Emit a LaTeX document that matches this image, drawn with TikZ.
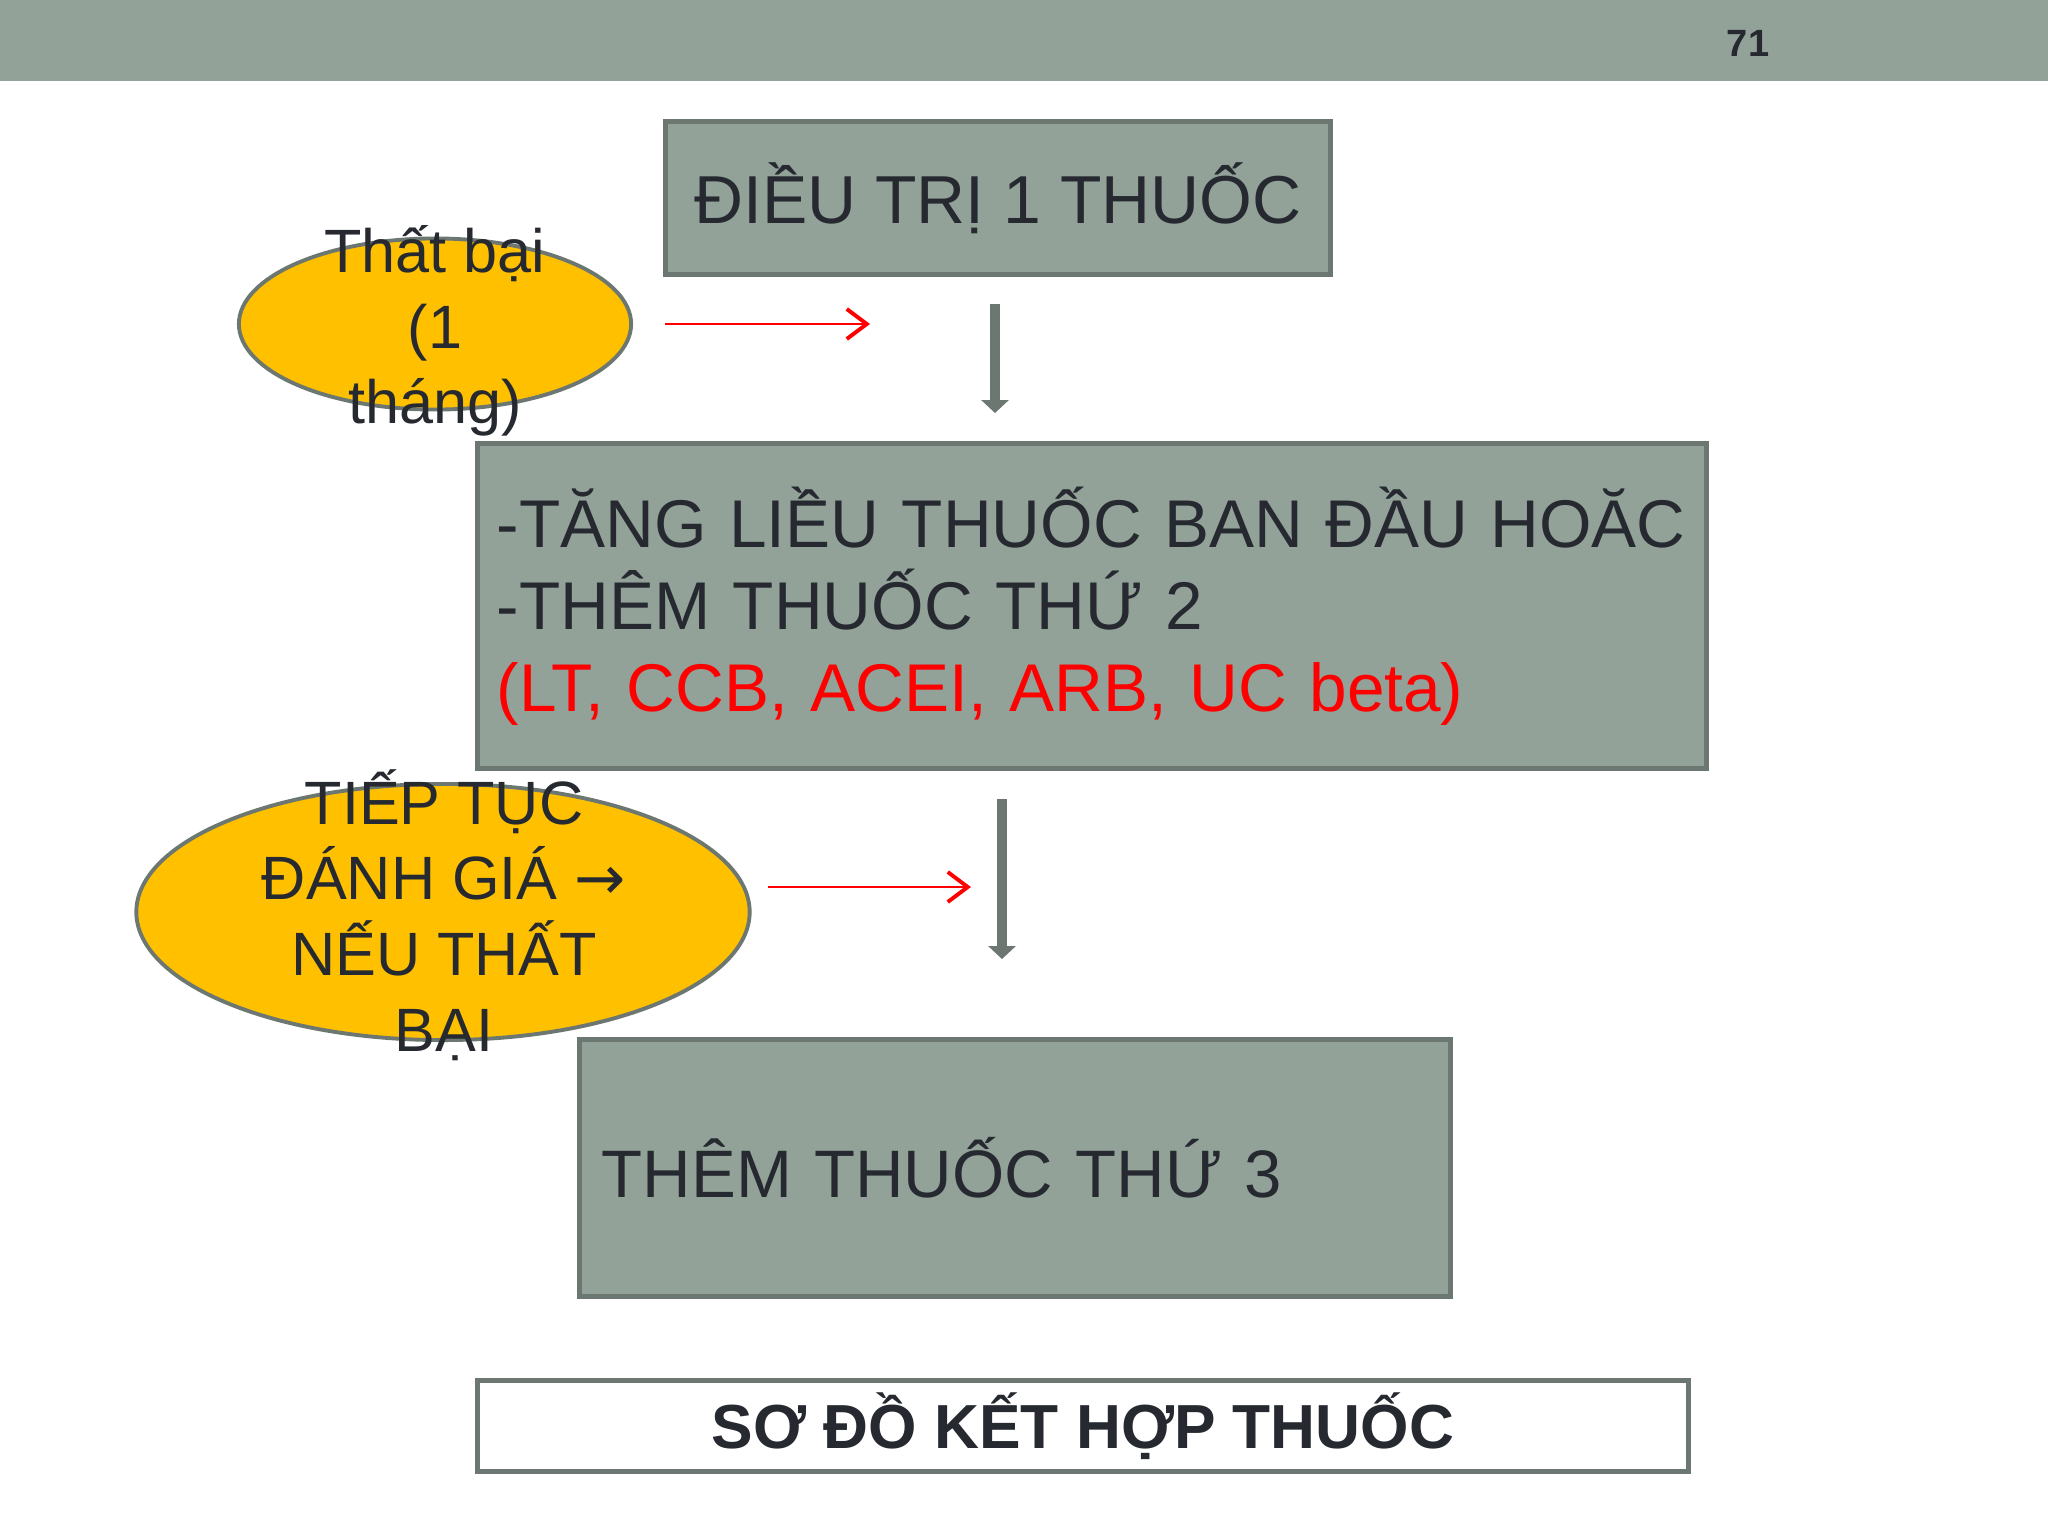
\documentclass[tikz,border=0pt]{standalone}
\usepackage{fontspec}
\setmainfont{Liberation Sans}
\newfontfamily\arrowfont{DejaVu Sans}
\usetikzlibrary{arrows.meta,shapes.geometric}

\definecolor{slidegray}{HTML}{92A299}
\definecolor{edgegray}{HTML}{6C7771}
\definecolor{gold}{HTML}{FFC000}
\definecolor{ink}{HTML}{262A30}

\tikzset{
    stepbox/.style={draw=edgegray, line width=1.4pt, fill=slidegray, text=ink, inner xsep=0pt},
    failoval/.style={ellipse, draw=edgegray, line width=1.1pt, fill=gold, inner sep=0pt},
    ovaltext/.style={text=ink, align=center, font=\fontsize{17.4}{21.5}\selectfont},
    redarrow/.style={draw=red, line width=0.6pt, -{Straight Barb[length=0.2cm, width=0.3cm, line width=1.1pt]}},
    downarrow/.style={draw=edgegray, line width=3.1pt, -{Triangle[length=0.13cm, width=0.27cm]}},
}

\begin{document}
\begin{tikzpicture}[x=0.01cm, y=-0.01cm]

    \fill[white] (0,0) rectangle (2048,1536);
    \useasboundingbox (0,0) rectangle (2048,1536);

    % slide header
    \fill[slidegray] (0,0) rectangle (2048,81);
    \node[text=ink, font=\bfseries\fontsize{10.8}{13}\selectfont] (pageno) at (1748,43) {71};

    % treatment steps
    \node[stepbox, minimum width=6.65cm, minimum height=1.53cm,
        font=\fontsize{19.3}{23}\selectfont] (mono) at (998,198) {ĐIỀU TRỊ 1 THUỐC};
    \node[stepbox, minimum width=12.29cm, minimum height=3.25cm, text width=11.9cm, align=left,
        font=\fontsize{19.2}{23.3}\selectfont] (dual) at (1092,606) {
        -TĂNG LIỀU THUỐC BAN ĐẦU HOĂC\\
        -THÊM THUỐC THỨ 2\\
        \textcolor{red}{(LT, CCB, ACEI, ARB, UC beta)}};
    \node[stepbox, minimum width=8.71cm, minimum height=2.56cm, text width=8.26cm, align=left,
        font=\fontsize{19.1}{23}\selectfont] (triple) at (1015,1168) {THÊM THUỐC THỨ 3};

    \node[stepbox, fill=white, minimum width=12.11cm, minimum height=0.86cm,
        font=\bfseries\fontsize{17.7}{21}\selectfont] (title) at (1083,1426) {SƠ ĐỒ KẾT HỢP THUỐC};

    % failure ovals
    \node[failoval, minimum width=3.92cm, minimum height=1.71cm] (fail) at (435,324) {};
    \node[ovaltext] (failtext) at (435,331) {Thất bại\\(1\\tháng)};
    \node[failoval, minimum width=6.13cm, minimum height=2.56cm] (review) at (443,912) {};
    \node[ovaltext] (reviewtext) at (444,915) {TIẾP TỤC\\ĐÁNH GIÁ {\arrowfont →}\\NẾU THẤT\\BẠI};

    % arrows
    \coordinate (failfrom) at (665,324);
    \coordinate (failto) at (870,324);
    \coordinate (reviewfrom) at (768,887);
    \coordinate (reviewto) at (971,887);
    \coordinate (monodown) at (995,304);
    \coordinate (monoend) at (995,413);
    \coordinate (dualdown) at (1002,799);
    \coordinate (dualend) at (1002,959);

    \draw[redarrow] (failfrom) -- (failto);
    \draw[redarrow] (reviewfrom) -- (reviewto);
    \draw[downarrow] (monodown) -- (monoend);
    \draw[downarrow] (dualdown) -- (dualend);

\end{tikzpicture}
\end{document}
